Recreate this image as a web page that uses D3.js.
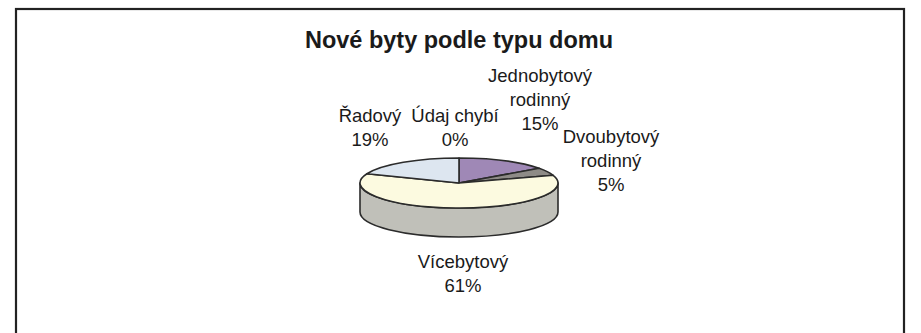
<!DOCTYPE html>
<html>
<head>
<meta charset="utf-8">
<script src="https://cdn.jsdelivr.net/npm/d3@7"></script>
<style>
  html, body { margin: 0; padding: 0; background: #fff; }
  svg { display: block; }
  text { font-family: "Liberation Sans", Arial, sans-serif; fill: #1a1a1a; }
</style>
</head>
<body>
<svg id="chart" width="921" height="333"></svg>
<script>
// Share of new flats by building type (percent)
const categories = ["Jednobytový rodinný", "Dvoubytový rodinný", "Vícebytový", "Řadový", "Údaj chybí"];
const shares = [15, 5, 61, 19, 0];
const labelLines = [
  ["Jednobytový", "rodinný"],
  ["Dvoubytový", "rodinný"],
  ["Vícebytový"],
  ["Řadový"],
  ["Údaj chybí"]
];
const title = "Nové byty podle typu domu";

// Slice fills and the label anchor (centre x, first baseline y) for each category
const fills = ["#9f88b6", "#8e8b87", "#fcfae0", "#dde6f0", "#c9c9c9"];
const labelAnchor = [[540, 82], [611, 143], [463, 268], [370, 122], [455, 122]];
const lineStep = 24;

const svg = d3.select("#chart");

// frame
svg.append("rect")
  .attr("x", 16).attr("y", 9)
  .attr("width", 888).attr("height", 340)
  .attr("fill", "none")
  .attr("stroke", "#222")
  .attr("stroke-width", 2.2);

svg.append("text")
  .attr("x", 459).attr("y", 48)
  .attr("text-anchor", "middle")
  .attr("font-size", 23.5)
  .attr("font-weight", "bold")
  .text(title);

// tilted pie geometry
const cx = 459, cy = 183, rx = 99, ry = 25, depth = 29;
const flat = ry / rx;

const pie = d3.pie().sort(null).value(d => d)(shares);

// point on the tilted rim for a pie angle (0 = 12 o'clock, clockwise)
const rim = (a, dy = 0) => [cx + rx * Math.sin(a), cy - ry * Math.cos(a) + dy];

// side wall: front half of the rim, from 3 o'clock round to 9 o'clock
const s0 = rim(Math.PI / 2), s1 = rim(3 * Math.PI / 2);
const b0 = rim(Math.PI / 2, depth), b1 = rim(3 * Math.PI / 2, depth);
svg.append("path")
  .attr("d", `M${s0[0]},${s0[1]} L${b0[0]},${b0[1]} A${rx},${ry} 0 0 1 ${b1[0]},${b1[1]} L${s1[0]},${s1[1]} A${rx},${ry} 0 0 0 ${s0[0]},${s0[1]} Z`)
  .attr("fill", "#c0c0b9")
  .attr("stroke", "#2b2b2b")
  .attr("stroke-width", 1.6)
  .attr("stroke-linejoin", "round");

// top face: circular arcs squashed into the ellipse
const arc = d3.arc().innerRadius(0).outerRadius(rx);
svg.append("g")
  .attr("transform", `translate(${cx},${cy}) scale(1,${flat})`)
  .selectAll("path")
  .data(pie.filter(d => d.endAngle > d.startAngle))
  .join("path")
  .attr("d", arc)
  .attr("fill", d => fills[d.index])
  .attr("stroke", "#2b2b2b")
  .attr("stroke-width", 1.6)
  .attr("stroke-linejoin", "round")
  .attr("vector-effect", "non-scaling-stroke");

// labels: category name lines followed by the share
const labels = svg.append("g").attr("font-size", 18.5).attr("text-anchor", "middle");
pie.forEach(d => {
  const [x, y] = labelAnchor[d.index];
  const lines = labelLines[d.index].concat([d3.format("d")(d.data) + "%"]);
  const t = labels.append("text").attr("x", x).attr("y", y);
  lines.forEach((ln, i) => {
    t.append("tspan").attr("x", x).attr("y", y + i * lineStep).text(ln);
  });
});
</script>
</body>
</html>
